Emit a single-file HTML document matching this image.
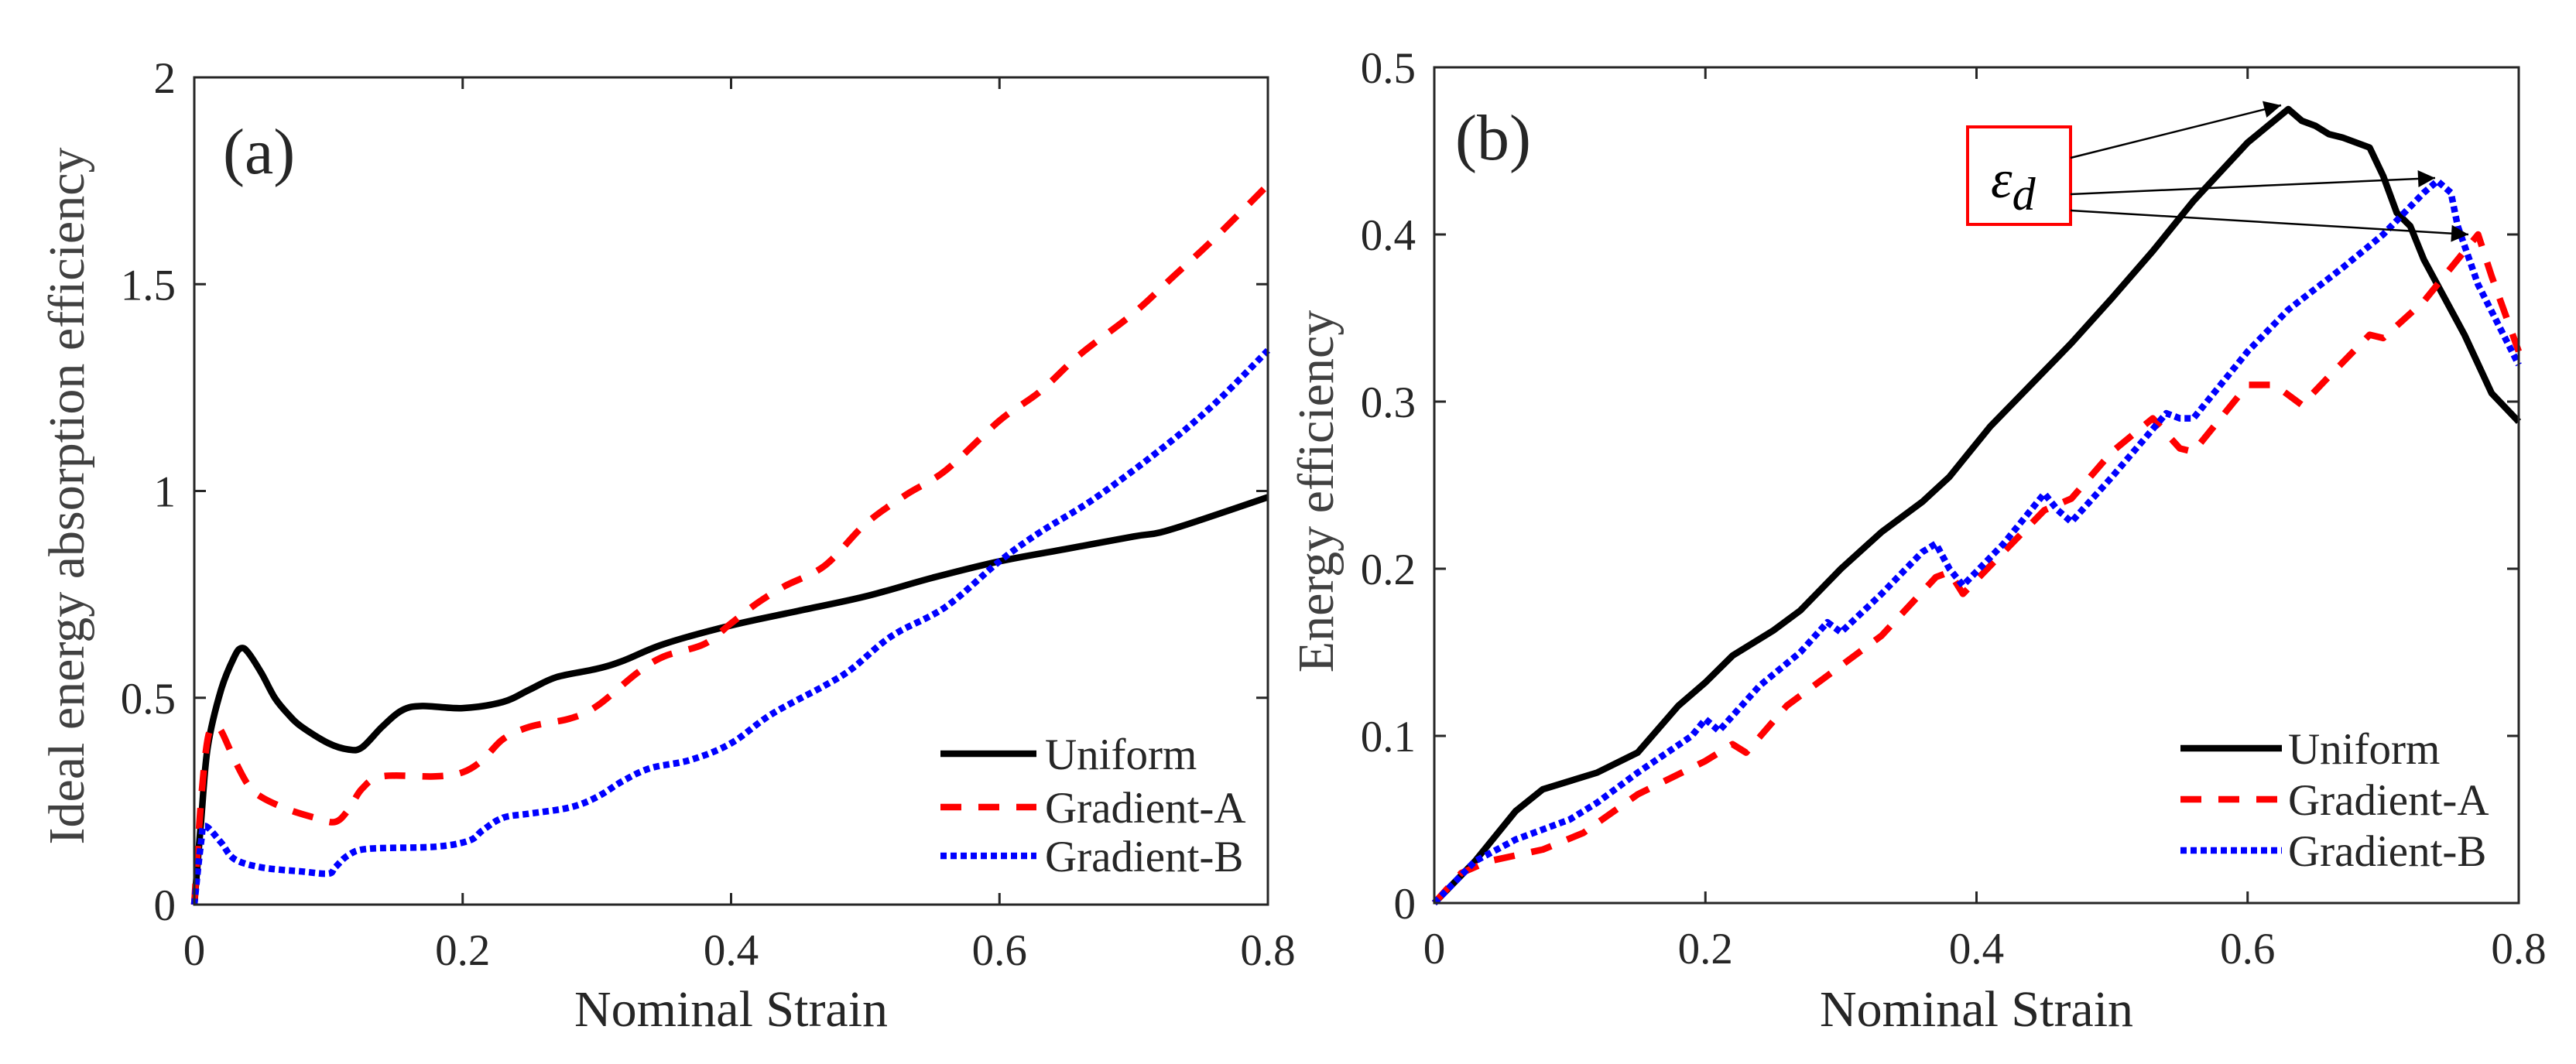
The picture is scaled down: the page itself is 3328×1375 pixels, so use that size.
<!DOCTYPE html>
<html><head><meta charset="utf-8"><style>
html,body{margin:0;padding:0;background:#fff;}
svg{display:block;}
text{font-family:"Liberation Serif",serif;fill:#262626;}
</style></head><body>
<svg id="fig" width="3328" height="1375" viewBox="0 0 3328 1375" xmlns="http://www.w3.org/2000/svg">
<defs>
<marker id="ah" viewBox="0 0 10 10" refX="10" refY="5" markerWidth="28" markerHeight="22" markerUnits="userSpaceOnUse" orient="auto">
<path d="M0,0 L10,5 L0,10 z" fill="#000"/>
</marker>
</defs>
<g id="pa"></g>
<g id="pb"></g>
</svg>
<script>
// Panel (a) data
const aUniX=[0,0.005,0.01,0.02,0.03,0.035,0.04,0.05,0.06,0.07,0.08,0.1,0.115,0.125,0.14,0.155,0.17,0.2,0.23,0.25,0.27,0.3,0.32,0.35,0.4,0.45,0.5,0.55,0.6,0.65,0.7,0.72,0.75,0.8];
const aUniY=[0,0.2,0.38,0.52,0.6,0.62,0.61,0.56,0.5,0.46,0.43,0.39,0.375,0.38,0.43,0.47,0.48,0.475,0.49,0.52,0.55,0.57,0.59,0.63,0.675,0.71,0.745,0.79,0.83,0.86,0.89,0.9,0.93,0.985];
const aGAX=[0,0.005,0.01,0.015,0.02,0.03,0.04,0.05,0.07,0.09,0.105,0.115,0.125,0.14,0.18,0.2,0.215,0.23,0.25,0.28,0.3,0.33,0.35,0.38,0.4,0.42,0.44,0.47,0.5,0.53,0.56,0.6,0.63,0.66,0.7,0.73,0.76,0.8];
const aGAY=[0,0.25,0.4,0.43,0.42,0.35,0.29,0.26,0.23,0.21,0.2,0.23,0.28,0.31,0.31,0.32,0.35,0.4,0.43,0.45,0.48,0.56,0.6,0.63,0.68,0.73,0.77,0.82,0.92,0.99,1.05,1.17,1.24,1.33,1.43,1.52,1.61,1.74];
const aGBX=[0,0.005,0.008,0.02,0.03,0.05,0.08,0.1,0.105,0.115,0.13,0.18,0.205,0.215,0.23,0.25,0.28,0.3,0.32,0.34,0.37,0.4,0.43,0.47,0.49,0.52,0.56,0.6,0.63,0.67,0.72,0.76,0.8];
const aGBY=[0,0.15,0.19,0.15,0.11,0.09,0.08,0.075,0.09,0.12,0.135,0.14,0.155,0.18,0.21,0.22,0.235,0.26,0.3,0.33,0.35,0.39,0.46,0.53,0.57,0.65,0.72,0.83,0.9,0.98,1.1,1.21,1.34];
const aXTicks=[0,0.2,0.4,0.6,0.8];
const aXTickLabels=["0","0.2","0.4","0.6","0.8"];
const aYTicks=[0,0.5,1,1.5,2];
const aYTickLabels=["0","0.5","1","1.5","2"];
// Panel (b) data
const bUniX=[0,0.03,0.06,0.08,0.1,0.12,0.15,0.18,0.2,0.22,0.25,0.27,0.3,0.33,0.36,0.38,0.41,0.44,0.47,0.5,0.53,0.56,0.6,0.63,0.64,0.65,0.66,0.67,0.68,0.69,0.7,0.71,0.72,0.73,0.74,0.76,0.78,0.8];
const bUniY=[0,0.025,0.055,0.068,0.073,0.078,0.09,0.118,0.132,0.148,0.163,0.175,0.2,0.222,0.24,0.255,0.285,0.31,0.335,0.362,0.39,0.42,0.455,0.475,0.468,0.465,0.46,0.458,0.455,0.452,0.435,0.413,0.405,0.385,0.37,0.34,0.305,0.288];
const bGAX=[0,0.02,0.04,0.08,0.11,0.15,0.2,0.22,0.23,0.26,0.3,0.33,0.37,0.38,0.39,0.42,0.45,0.47,0.5,0.53,0.55,0.56,0.6,0.62,0.64,0.66,0.69,0.7,0.73,0.76,0.77,0.78,0.8];
const bGAY=[0,0.018,0.025,0.032,0.042,0.065,0.085,0.095,0.09,0.118,0.142,0.16,0.195,0.198,0.185,0.21,0.235,0.242,0.27,0.29,0.272,0.27,0.31,0.31,0.298,0.315,0.34,0.338,0.36,0.39,0.4,0.375,0.33];
const bGBX=[0,0.03,0.06,0.1,0.12,0.15,0.19,0.2,0.21,0.24,0.27,0.29,0.3,0.33,0.36,0.37,0.38,0.39,0.42,0.45,0.46,0.47,0.5,0.54,0.55,0.56,0.6,0.63,0.67,0.7,0.73,0.74,0.75,0.755,0.77,0.8];
const bGBY=[0,0.025,0.038,0.05,0.06,0.078,0.1,0.11,0.103,0.13,0.15,0.168,0.162,0.185,0.21,0.215,0.2,0.19,0.215,0.245,0.235,0.228,0.255,0.293,0.29,0.29,0.33,0.355,0.38,0.4,0.425,0.432,0.425,0.405,0.37,0.322];
const bXTicks=[0,0.2,0.4,0.6,0.8];
const bXTickLabels=["0","0.2","0.4","0.6","0.8"];
const bYTicks=[0,0.1,0.2,0.3,0.4,0.5];
const bYTickLabels=["0","0.1","0.2","0.3","0.4","0.5"];
const seriesNames=["Uniform","Gradient-A","Gradient-B"];

const NS="http://www.w3.org/2000/svg";
function mk(parent,tag,attrs,txt){const e=document.createElementNS(NS,tag);for(const k in attrs)e.setAttribute(k,attrs[k]);if(txt!==undefined)e.textContent=txt;parent.appendChild(e);return e;}
const styles=[{stroke:"#000",dash:"none"},{stroke:"#ff0000",dash:"27 22"},{stroke:"#0000ff",dash:"8 5"}];

function smoothPath(P){
  let d="M"+P[0][0].toFixed(1)+","+P[0][1].toFixed(1);
  for(let i=0;i<P.length-1;i++){
    const p0=P[i-1]||P[i],p1=P[i],p2=P[i+1],p3=P[i+2]||P[i+1];
    const c1=[p1[0]+(p2[0]-p0[0])/6,p1[1]+(p2[1]-p0[1])/6];
    const c2=[p2[0]-(p3[0]-p1[0])/6,p2[1]-(p3[1]-p1[1])/6];
    d+=" C"+c1[0].toFixed(1)+","+c1[1].toFixed(1)+" "+c2[0].toFixed(1)+","+c2[1].toFixed(1)+" "+p2[0].toFixed(1)+","+p2[1].toFixed(1);
  }
  return d;
}

function panel(g,box,xmax,ymax,xt,xtl,yt,ytl,series,ylabel,tag,legend,smooth){
  const sx=v=>box.l+(v/xmax)*(box.r-box.l);
  const sy=v=>box.b-(v/ymax)*(box.b-box.t);
  series.forEach((s,i)=>{
    const P=s[0].map((x,j)=>[sx(x),sy(s[1][j])]);
    const d=smooth?smoothPath(P):P.map((p,j)=>(j?"L":"M")+p[0].toFixed(1)+","+p[1].toFixed(1)).join(" ");
    const p=mk(g,"path",{d:d,fill:"none",stroke:styles[i].stroke,"stroke-width":8.5,"stroke-dasharray":styles[i].dash,"stroke-linejoin":"round"});
    
    
  });
  const ax=mk(g,"rect",{x:box.l,y:box.t,width:box.r-box.l,height:box.b-box.t,fill:"none",stroke:"#262626","stroke-width":3});
  
  
  xt.forEach((v,i)=>{
    const x=sx(v);
    mk(g,"line",{x1:x,y1:box.b,x2:x,y2:box.b-15,stroke:"#262626","stroke-width":3});
    mk(g,"line",{x1:x,y1:box.t,x2:x,y2:box.t+15,stroke:"#262626","stroke-width":3});
    const t=mk(g,"text",{x:x,y:box.b+78,"font-size":57,"text-anchor":"middle"},xtl[i]);
    
    
  });
  yt.forEach((v,i)=>{
    const y=sy(v);
    mk(g,"line",{x1:box.l,y1:y,x2:box.l+15,y2:y,stroke:"#262626","stroke-width":3});
    mk(g,"line",{x1:box.r,y1:y,x2:box.r-15,y2:y,stroke:"#262626","stroke-width":3});
    const t=mk(g,"text",{x:box.l-24,y:y+20,"font-size":57,"text-anchor":"end"},ytl[i]);
    
    
  });
  const xl=mk(g,"text",{x:(box.l+box.r)/2,y:1326,"font-size":66,"text-anchor":"middle"},"Nominal Strain");
  
  
  const yl=mk(g,"text",{x:0,y:0,"font-size":66,"text-anchor":"middle",transform:"translate("+ylabel.x+","+ylabel.y+") rotate(-90)",style:"fill:#404040"},ylabel.text);
  
  
  const pt=mk(g,"text",{x:tag.x,y:tag.y,"font-size":84},tag.text);
  
  
  legend.rows.forEach((y,i)=>{
    const lg=mk(g,"g",{});
    
    
    mk(lg,"line",{x1:legend.x1,y1:y,x2:legend.x2,y2:y,stroke:styles[i].stroke,"stroke-width":8.5,"stroke-dasharray":styles[i].dash});
    mk(lg,"text",{x:legend.tx,y:y+20,"font-size":57},seriesNames[i]);
  });
  return {sx,sy};
}

panel(document.getElementById("pa"),{l:251,r:1638,t:100,b:1169},0.8,2,aXTicks,aXTickLabels,aYTicks,aYTickLabels,
  [[aUniX,aUniY],[aGAX,aGAY],[aGBX,aGBY]],{x:108,y:641,text:"Ideal energy absorption efficiency"},{x:288,y:224,text:"(a)"},
  {x1:1215,x2:1339,tx:1350,rows:[974,1043,1106]},true);
panel(document.getElementById("pb"),{l:1853,r:3254,t:87,b:1167},0.8,0.5,bXTicks,bXTickLabels,bYTicks,bYTickLabels,
  [[bUniX,bUniY],[bGAX,bGAY],[bGBX,bGBY]],{x:1722,y:635,text:"Energy efficiency"},{x:1880,y:206,text:"(b)"},
  {x1:2817,x2:2948,tx:2956,rows:[967,1033,1099]},false);

const pb=document.getElementById("pb");
const ann=mk(pb,"g",{});


mk(ann,"rect",{x:2542,y:164,width:133,height:126,fill:"#fff",stroke:"#ff0000","stroke-width":4});
const et=mk(ann,"text",{x:2572,y:255,"font-size":70,"font-style":"italic",style:"fill:#000;font-family:'Liberation Serif',serif"});
et.textContent="ε";
mk(et,"tspan",{dy:16,"font-size":60},"d");
mk(ann,"line",{x1:2675,y1:204,x2:2947,y2:136,stroke:"#000","stroke-width":2.5,"marker-end":"url(#ah)"});
mk(ann,"line",{x1:2675,y1:251,x2:3146,y2:230,stroke:"#000","stroke-width":2.5,"marker-end":"url(#ah)"});
mk(ann,"line",{x1:2675,y1:272,x2:3189,y2:303,stroke:"#000","stroke-width":2.5,"marker-end":"url(#ah)"});
</script>
</body></html>
